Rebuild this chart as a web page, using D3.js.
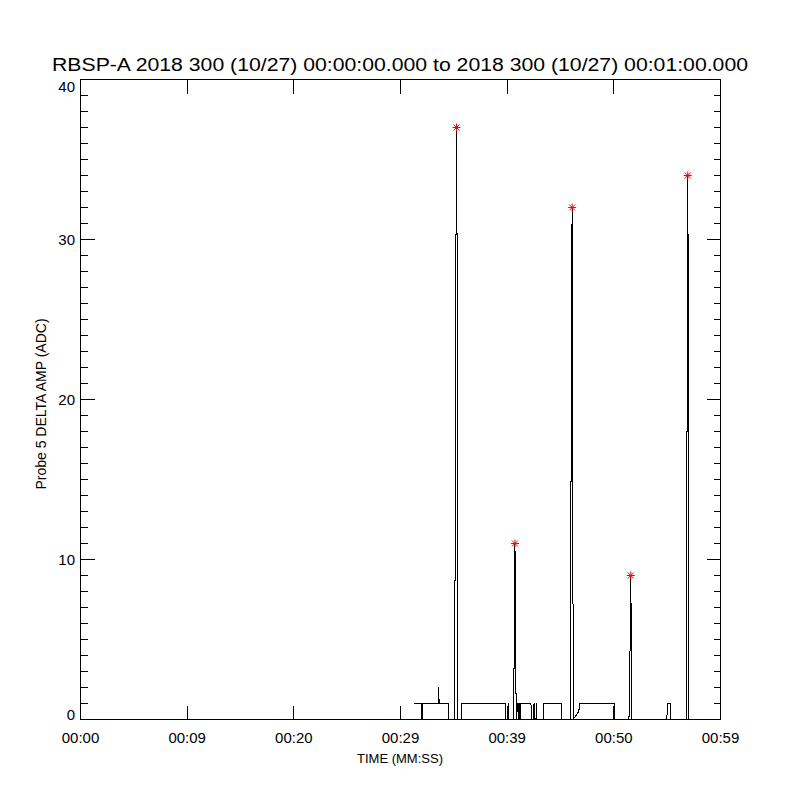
<!DOCTYPE html>
<html><head><meta charset="utf-8">
<script src="https://cdn.jsdelivr.net/npm/d3@7"></script>
<style>
body{margin:0;background:#fff;}
text{font-family:"Liberation Sans",Arial,sans-serif;fill:#000;}
</style></head><body>
<svg id="c" width="800" height="800"></svg>
<script>
const titleText = "RBSP-A 2018 300 (10/27) 00:00:00.000 to 2018 300 (10/27) 00:01:00.000";
const yLabel = "Probe 5 DELTA AMP (ADC)";
const xLabel = "TIME (MM:SS)";
const xTickValues = [0, 10, 20, 30, 40, 50, 60];
const xTickLabels = ["00:00", "00:09", "00:20", "00:29", "00:39", "00:50", "00:59"];
const yTickValues = [0, 10, 20, 30, 40];
const yMinorTicks = d3.range(0, 41, 1);
const times = [31.22, 31.97, 31.97, 32.06, 32.06, 33.53, 33.56, 33.61, 33.66, 34.53, 34.53,
  35.06, 35.13, 35.20, 35.25, 35.30, 35.34, 35.34, 35.37, 35.69, 35.69,
  39.84, 39.89, 40.08, 40.13, 40.17, 40.55, 40.64, 40.69, 40.73, 40.78, 40.83, 40.88,
  40.97, 41.06, 41.11, 41.16, 41.25, 41.25, 42.23, 42.28, 42.47, 42.52, 42.56, 42.61,
  42.70, 42.75, 42.80, 43.36, 43.41, 43.45, 45.05, 45.09,
  45.94, 46.00, 46.06, 46.09, 46.15, 46.18, 46.72, 46.78, 50.06, 50.09,
  51.42, 51.50, 51.56, 51.59, 51.64, 51.67, 54.97, 55.00, 55.03, 55.31, 55.34,
  56.81, 56.88, 56.93, 57.00, 57.03];
const values = [1, 1, 0, 0, 1, 1, 2, 1.3, 1, 1, 0,
  0, 12, 29.5, 37, 30, 8.9, 4.5, 0, 0, 1,
  1, 0, 0, 1, 0, 0, 3, 7, 11, 7, 1.5, 0,
  1, 0, 1, 0, 0, 1, 1, 0, 0, 1, 1, 0,
  0, 1, 0, 0, 0.5, 1, 1, 0,
  0, 19, 29, 32, 29, 0, 0.5, 1, 1, 0,
  0, 4, 5, 9, 4.9, 0, 0, 0.5, 1, 1, 0,
  0, 24.5, 34, 23, 0];
const peakTimes = [35.25, 40.73, 46.09, 51.59, 56.93];
const peakValues = [37, 11, 32, 9, 34];

const svg = d3.select("#c");
const L = 80.5, R = 720.5, T = 79.5, B = 719.5;
const x = d3.scaleLinear().domain([0, 60]).range([L, R]);
const y = d3.scaleLinear().domain([0, 40]).range([B, T]);

// frame
const g = svg.append("g").attr("shape-rendering", "crispEdges");
g.append("rect").attr("x", L).attr("y", T).attr("width", R - L).attr("height", B - T)
  .attr("fill", "none").attr("stroke", "#000").attr("stroke-width", 1);

// y ticks left & right
yMinorTicks.forEach(v => {
  const len = (v % 10 === 0) ? 14 : 7;
  if (v === 0 || v === 40) return;
  g.append("line").attr("x1", L).attr("x2", L + len).attr("y1", y(v)).attr("y2", y(v)).attr("stroke", "#000");
  g.append("line").attr("x1", R).attr("x2", R - len).attr("y1", y(v)).attr("y2", y(v)).attr("stroke", "#000");
});
// x ticks bottom & top
xTickValues.forEach(v => {
  if (v === 0 || v === 60) return;
  g.append("line").attr("x1", x(v)).attr("x2", x(v)).attr("y1", B).attr("y2", B - 14).attr("stroke", "#000");
  g.append("line").attr("x1", x(v)).attr("x2", x(v)).attr("y1", T).attr("y2", T + 14).attr("stroke", "#000");
});

// tick labels
xTickValues.forEach((v, i) => {
  svg.append("text").attr("x", x(v)).attr("y", 743).attr("text-anchor", "middle")
    .attr("font-size", 15).text(xTickLabels[i]);
});
yTickValues.forEach((v, i) => {
  let dy = 5;
  if (i === 0) dy = 0;
  if (i === yTickValues.length - 1) dy = 12;
  svg.append("text").attr("x", 75).attr("y", y(v) + dy).attr("text-anchor", "end")
    .attr("font-size", 15).text(v);
});

// titles
svg.append("text").attr("x", 400).attr("y", 71).attr("text-anchor", "middle")
  .attr("font-size", 18).attr("textLength", 696).attr("lengthAdjust", "spacingAndGlyphs").text(titleText);
svg.append("text").attr("x", 400).attr("y", 763).attr("text-anchor", "middle")
  .attr("font-size", 13).text(xLabel);
svg.append("text").attr("transform", "translate(46,404) rotate(-90)").attr("text-anchor", "middle")
  .attr("font-size", 14).text(yLabel);

// data line
const pts = times.map((t, i) => [t, values[i]]);
const line = d3.line().x(d => x(d[0])).y(d => y(d[1]));
svg.append("path").datum(pts).attr("d", line).attr("fill", "none")
  .attr("stroke", "#000").attr("stroke-width", 1).attr("shape-rendering", "crispEdges");

// asterisks
const s = 4;
peakTimes.forEach((t, i) => {
  const cx = x(t), cy = y(peakValues[i]);
  const d = `M${cx - s},${cy}L${cx + s},${cy}M${cx},${cy - s}L${cx},${cy + s}` +
    `M${cx - s * 0.75},${cy - s * 0.75}L${cx + s * 0.75},${cy + s * 0.75}` +
    `M${cx - s * 0.75},${cy + s * 0.75}L${cx + s * 0.75},${cy - s * 0.75}`;
  svg.append("path").attr("d", d).attr("stroke", "#ff0000").attr("stroke-width", 1).attr("fill", "none");
});
</script>
</body></html>
